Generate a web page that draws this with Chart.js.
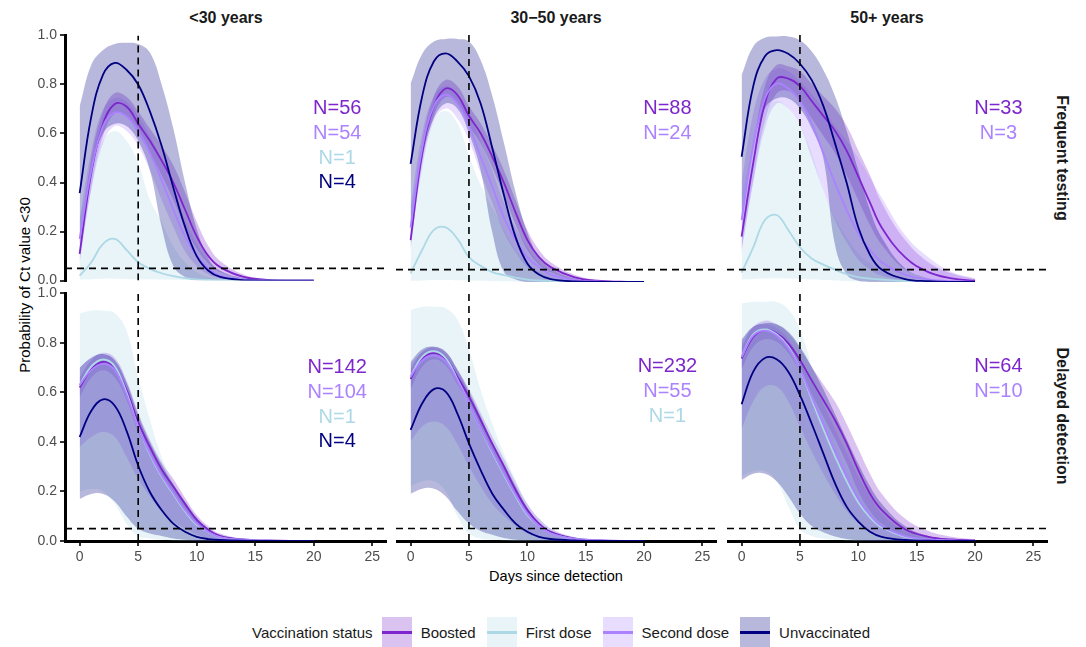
<!DOCTYPE html>
<html>
<head>
<meta charset="utf-8">
<title>Probability of Ct value &lt;30 by vaccination status</title>
<script src="https://cdn.jsdelivr.net/npm/chart.js@4.4.1/dist/chart.umd.min.js"></script>
<style>
  html, body { margin: 0; padding: 0; background: #fff; }
  #figure { position: relative; width: 1086px; height: 647px; overflow: hidden;
            font-family: "Liberation Sans", Arial, sans-serif; color: #000; }
  #figure canvas { position: absolute; }
  .label { position: absolute; white-space: nowrap; transform: translate(-50%, -50%); }
  .strip { font-weight: bold; font-size: 16px; color: #1a1a1a; }
  .strip-right { transform: translate(-50%, -50%) rotate(90deg); }
  .axis-title { font-size: 14.5px; color: #000; }
  .y-title { transform: translate(-50%, -50%) rotate(-90deg); font-size: 15px; }
  #legend { position: absolute; left: 252px; top: 617px; height: 30px; display: flex;
            align-items: center; font-size: 15px; color: #1a1a1a; white-space: nowrap; }
  #legend .key { width: 30px; height: 30px; position: relative; margin-right: 9px; }
  #legend .key span { position: absolute; left: 0; right: 0; top: 13.5px; height: 3px; }
  #legend .txt { margin-right: 11px; }
</style>
</head>
<body>
<div id="figure">
  <div class="label strip" style="left:226px;top:18px">&lt;30 years</div>
  <div class="label strip" style="left:556px;top:18px">30&minus;50 years</div>
  <div class="label strip" style="left:887px;top:18px">50+ years</div>
  <div class="label strip strip-right" style="left:1062px;top:158px">Frequent testing</div>
  <div class="label strip strip-right" style="left:1062px;top:416px">Delayed detection</div>
  <div class="label y-title" style="left:24px;top:285px">Probability of Ct value &lt;30</div>
  <div class="label axis-title" style="left:556px;top:576px">Days since detection</div>
  <div id="legend"></div>
</div>
<script>
// ---- shared values ----
const days = [0, 1, 2, 3, 4, 5, 6, 7, 8, 9, 10, 11, 12, 14, 16, 18, 20];
const dayTicks = [0, 5, 10, 15, 20, 25];
const probTicks = [0, 0.2, 0.4, 0.6, 0.8, 1.0];
const dayLimits = [-1.25, 26.25];
const detectionDay = 5;
const ctThreshold = 0.05;
const labelDay = 22;
const labelHeights = [0.7, 0.6, 0.5, 0.4];   // Boosted, Second dose, First dose, Unvaccinated
const statuses = ['Boosted', 'First dose', 'Second dose', 'Unvaccinated'];
const statusColors = ['#7D26CD', '#ADD8E6', '#AB82FF', '#000080'];

// ---- Frequent testing, <30 years ----
const freqU30Boosted   = [.109, .44, .64, .72, .71, .64, .57, .49, .40, .29, .18, .10, .055, .015, .003, 0, 0];
const freqU30BoostedLo = [.07, .38, .59, .68, .67, .60, .52, .43, .33, .22, .13, .07, .035, .008, .001, 0, 0];
const freqU30BoostedHi = [.16, .50, .69, .765, .75, .69, .62, .55, .47, .36, .24, .14, .08, .025, .006, .001, 0];
const freqU30First     = [.02, .075, .15, .17, .125, .075, .048, .03, .018, .01, .005, .003, .002, 0, 0, 0, 0];
const freqU30FirstLo   = [.004, .006, .008, .008, .007, .006, .005, .004, .003, .002, .001, 0, 0, 0, 0, 0, 0];
const freqU30FirstHi   = [.25, .45, .57, .61, .57, .48, .33, .24, .14, .075, .035, .015, .008, .002, 0, 0, 0];
const freqU30Second    = [.17, .45, .63, .685, .67, .61, .52, .41, .29, .18, .10, .05, .02, .004, 0, 0, 0];
const freqU30SecondLo  = [.10, .37, .56, .63, .61, .55, .45, .33, .22, .12, .06, .025, .01, .002, 0, 0, 0];
const freqU30SecondHi  = [.25, .53, .70, .745, .73, .67, .59, .49, .37, .25, .15, .08, .04, .01, .002, 0, 0];
const freqU30Unvacc    = [.357, .67, .84, .888, .86, .80, .69, .55, .38, .22, .10, .04, .015, .002, 0, 0, 0];
const freqU30UnvaccLo  = [.15, .45, .60, .64, .63, .57, .45, .22, .06, .015, 0, 0, 0, 0, 0, 0, 0];
const freqU30UnvaccHi  = [.71, .88, .94, .965, .97, .965, .93, .80, .62, .40, .21, .09, .04, .01, .002, 0, 0];
const freqU30N = [56, 54, 1, 4];

// ---- Frequent testing, 30-50 years ----
const freqMidBoosted   = [.169, .52, .71, .78, .755, .67, .60, .505, .40, .28, .17, .10, .06, .02, .005, .001, 0];
const freqMidBoostedLo = [.13, .48, .67, .745, .72, .63, .56, .46, .35, .23, .13, .07, .04, .01, .002, 0, 0];
const freqMidBoostedHi = [.21, .56, .75, .815, .79, .71, .64, .55, .45, .33, .21, .13, .08, .03, .008, .002, 0];
const freqMidFirst     = [.035, .13, .21, .22, .175, .10, .065, .04, .028, .018, .01, .006, .004, .001, 0, 0, 0];
const freqMidFirstLo   = [.004, .006, .008, .008, .007, .006, .005, .004, .003, .002, .001, 0, 0, 0, 0, 0, 0];
const freqMidFirstHi   = [.30, .50, .65, .69, .64, .51, .39, .30, .21, .13, .075, .04, .02, .005, .001, 0, 0];
const freqMidSecond    = [.22, .54, .71, .755, .72, .63, .505, .385, .26, .17, .10, .06, .03, .008, .002, 0, 0];
const freqMidSecondLo  = [.15, .46, .65, .70, .66, .57, .44, .32, .20, .12, .06, .035, .015, .003, 0, 0, 0];
const freqMidSecondHi  = [.30, .60, .75, .79, .76, .68, .57, .45, .32, .22, .14, .08, .045, .012, .003, 0, 0];
const freqMidUnvacc    = [.476, .75, .89, .922, .89, .83, .72, .54, .35, .18, .075, .03, .012, .002, 0, 0, 0];
const freqMidUnvaccLo  = [.20, .50, .66, .72, .70, .60, .45, .20, .04, .01, 0, 0, 0, 0, 0, 0, 0];
const freqMidUnvaccHi  = [.80, .92, .97, .98, .98, .97, .895, .75, .56, .36, .20, .10, .055, .015, .003, 0, 0];
const freqMidN = [88, 24, null, null];

// ---- Frequent testing, 50+ years ----
const freqOldBoosted   = [.183, .48, .72, .82, .82, .79, .73, .67, .61, .53, .425, .32, .22, .10, .04, .015, .005];
const freqOldBoostedLo = [.13, .41, .65, .76, .77, .73, .66, .59, .52, .43, .33, .23, .15, .05, .015, .004, .001];
const freqOldBoostedHi = [.24, .55, .79, .875, .87, .85, .80, .75, .70, .63, .53, .43, .32, .17, .08, .035, .012];
const freqOldFirst     = [.038, .14, .25, .27, .21, .14, .095, .07, .05, .032, .02, .014, .01, .004, .001, 0, 0];
const freqOldFirstLo   = [.01, .012, .015, .015, .014, .012, .01, .008, .006, .004, .003, .002, .001, 0, 0, 0, 0];
const freqOldFirstHi   = [.35, .55, .70, .73, .70, .63, .52, .37, .26, .18, .115, .075, .048, .015, .004, 0, 0];
const freqOldSecond    = [.25, .55, .74, .80, .78, .73, .64, .52, .40, .29, .196, .13, .08, .03, .01, .003, 0];
const freqOldSecondLo  = [.12, .40, .62, .72, .70, .63, .50, .37, .25, .16, .09, .05, .025, .006, .001, 0, 0];
const freqOldSecondHi  = [.40, .68, .82, .86, .85, .81, .76, .70, .63, .57, .50, .42, .34, .19, .10, .04, .015];
const freqOldUnvacc    = [.505, .79, .91, .935, .92, .88, .815, .71, .56, .40, .22, .11, .05, .012, .003, 0, 0];
const freqOldUnvaccLo  = [.25, .55, .70, .74, .74, .70, .62, .50, .15, .03, .005, 0, 0, 0, 0, 0, 0];
const freqOldUnvaccHi  = [.835, .95, .985, .99, .99, .975, .93, .855, .75, .61, .45, .29, .18, .055, .015, .003, 0];
const freqOldN = [33, 3, null, null];

// ---- Delayed detection, <30 years ----
const delayU30Boosted   = [.62, .693, .724, .70, .61, .48, .38, .29, .22, .15, .085, .045, .02, .006, .002, 0, 0];
const delayU30BoostedLo = [.58, .66, .69, .66, .57, .44, .35, .26, .19, .125, .065, .032, .014, .004, .001, 0, 0];
const delayU30BoostedHi = [.66, .73, .76, .74, .65, .52, .41, .32, .25, .175, .105, .06, .03, .009, .002, 0, 0];
const delayU30First     = [.63, .705, .733, .705, .60, .46, .35, .26, .19, .12, .065, .035, .015, .004, .001, 0, 0];
const delayU30FirstLo   = [.20, .21, .20, .15, .07, .02, .01, .005, .002, .001, 0, 0, 0, 0, 0, 0, 0];
const delayU30FirstHi   = [.92, .93, .93, .92, .85, .66, .49, .34, .23, .15, .085, .045, .024, .008, .002, 0, 0];
const delayU30Second    = [.63, .69, .715, .69, .59, .46, .355, .265, .195, .125, .07, .035, .015, .004, .001, 0, 0];
const delayU30SecondLo  = [.38, .42, .44, .42, .34, .25, .18, .12, .08, .05, .025, .012, .005, .001, 0, 0, 0];
const delayU30SecondHi  = [.70, .74, .755, .73, .64, .50, .39, .295, .22, .15, .09, .05, .024, .007, .002, 0, 0];
const delayU30Unvacc    = [.42, .526, .572, .546, .446, .305, .198, .125, .07, .037, .017, .008, .004, .001, 0, 0, 0];
const delayU30UnvaccLo  = [.17, .19, .19, .16, .10, .05, .03, .02, .01, .005, 0, 0, 0, 0, 0, 0, 0];
const delayU30UnvaccHi  = [.70, .74, .755, .73, .64, .51, .40, .31, .23, .16, .095, .05, .025, .007, .002, 0, 0];
const delayU30N = [142, 104, 1, 4];

// ---- Delayed detection, 30-50 years ----
const delayMidBoosted   = [.65, .733, .755, .733, .66, .58, .486, .39, .30, .205, .125, .07, .037, .01, .003, 0, 0];
const delayMidBoostedLo = [.61, .70, .73, .705, .63, .55, .455, .36, .27, .18, .10, .055, .027, .007, .002, 0, 0];
const delayMidBoostedHi = [.69, .76, .78, .76, .69, .61, .515, .42, .33, .235, .15, .09, .05, .015, .004, .001, 0];
const delayMidFirst     = [.66, .74, .762, .735, .65, .55, .45, .355, .265, .18, .105, .06, .03, .008, .002, 0, 0];
const delayMidFirstLo   = [.22, .24, .24, .20, .10, .03, .01, .005, .002, 0, 0, 0, 0, 0, 0, 0, 0];
const delayMidFirstHi   = [.928, .94, .94, .935, .89, .77, .606, .47, .35, .245, .15, .09, .05, .017, .005, .001, 0];
const delayMidSecond    = [.66, .725, .745, .72, .645, .55, .45, .36, .27, .185, .11, .06, .03, .008, .002, 0, 0];
const delayMidSecondLo  = [.40, .46, .48, .46, .39, .30, .22, .15, .10, .06, .03, .015, .006, .001, 0, 0, 0];
const delayMidSecondHi  = [.71, .76, .775, .75, .68, .59, .49, .395, .30, .21, .13, .075, .04, .012, .003, 0, 0];
const delayMidUnvacc    = [.446, .553, .61, .60, .513, .392, .285, .19, .125, .07, .037, .017, .008, .002, 0, 0, 0];
const delayMidUnvaccLo  = [.19, .21, .21, .18, .12, .07, .04, .025, .012, .005, .002, 0, 0, 0, 0, 0, 0];
const delayMidUnvaccHi  = [.72, .77, .78, .76, .69, .60, .50, .40, .31, .22, .135, .075, .04, .012, .003, 0, 0];
const delayMidN = [232, 55, 1, null];

// ---- Delayed detection, 50+ years ----
const delayOldBoosted   = [.733, .82, .847, .834, .794, .727, .646, .566, .486, .392, .285, .19, .125, .047, .017, .006, .002];
const delayOldBoostedLo = [.69, .78, .81, .80, .755, .68, .59, .50, .41, .31, .20, .12, .07, .02, .005, .002, 0];
const delayOldBoostedHi = [.78, .86, .885, .87, .835, .775, .70, .63, .56, .47, .37, .27, .19, .09, .04, .017, .007];
const delayOldFirst     = [.74, .83, .85, .83, .78, .69, .57, .45, .34, .24, .155, .095, .055, .017, .005, .001, 0];
const delayOldFirstLo   = [.26, .28, .28, .24, .14, .05, .02, .01, .005, .002, 0, 0, 0, 0, 0, 0, 0];
const delayOldFirstHi   = [.955, .96, .96, .96, .93, .85, .70, .54, .405, .30, .205, .138, .09, .037, .015, .005, .002];
const delayOldSecond    = [.74, .825, .845, .825, .775, .69, .58, .47, .36, .26, .17, .105, .06, .02, .006, .002, 0];
const delayOldSecondLo  = [.45, .56, .62, .62, .56, .46, .36, .27, .19, .12, .07, .04, .02, .005, .001, 0, 0];
const delayOldSecondHi  = [.80, .86, .87, .855, .81, .73, .64, .55, .45, .355, .26, .18, .11, .04, .012, .004, .001];
const delayOldUnvacc    = [.549, .68, .735, .73, .68, .586, .472, .352, .232, .138, .078, .037, .017, .004, .001, 0, 0];
const delayOldUnvaccLo  = [.245, .27, .27, .24, .18, .11, .06, .035, .018, .008, .003, .001, 0, 0, 0, 0, 0];
const delayOldUnvaccHi  = [.81, .86, .875, .87, .84, .78, .70, .61, .51, .41, .31, .22, .15, .06, .02, .006, .002];
const delayOldN = [64, 10, null, null];

// ---- panel layout (facet grid 2 rows x 3 columns) ----
const FONT = '"Liberation Sans", Arial, sans-serif';
const columns = [
  { left: 25, width: 362, yAxis: true },
  { left: 396, width: 321, yAxis: false },
  { left: 727, width: 321, yAxis: false }
];
const rows = [
  { top: 24, height: 268, padTop: 10, padBottom: 10, xAxis: false },
  { top: 282, height: 285, padTop: 10, padBottom: 0, xAxis: true }
];

const panels = [
  { row: 0, col: 0, counts: freqU30N, series: [
    [freqU30Boosted, freqU30BoostedLo, freqU30BoostedHi], [freqU30First, freqU30FirstLo, freqU30FirstHi],
    [freqU30Second, freqU30SecondLo, freqU30SecondHi], [freqU30Unvacc, freqU30UnvaccLo, freqU30UnvaccHi]] },
  { row: 0, col: 1, counts: freqMidN, series: [
    [freqMidBoosted, freqMidBoostedLo, freqMidBoostedHi], [freqMidFirst, freqMidFirstLo, freqMidFirstHi],
    [freqMidSecond, freqMidSecondLo, freqMidSecondHi], [freqMidUnvacc, freqMidUnvaccLo, freqMidUnvaccHi]] },
  { row: 0, col: 2, counts: freqOldN, series: [
    [freqOldBoosted, freqOldBoostedLo, freqOldBoostedHi], [freqOldFirst, freqOldFirstLo, freqOldFirstHi],
    [freqOldSecond, freqOldSecondLo, freqOldSecondHi], [freqOldUnvacc, freqOldUnvaccLo, freqOldUnvaccHi]] },
  { row: 1, col: 0, counts: delayU30N, series: [
    [delayU30Boosted, delayU30BoostedLo, delayU30BoostedHi], [delayU30First, delayU30FirstLo, delayU30FirstHi],
    [delayU30Second, delayU30SecondLo, delayU30SecondHi], [delayU30Unvacc, delayU30UnvaccLo, delayU30UnvaccHi]] },
  { row: 1, col: 1, counts: delayMidN, series: [
    [delayMidBoosted, delayMidBoostedLo, delayMidBoostedHi], [delayMidFirst, delayMidFirstLo, delayMidFirstHi],
    [delayMidSecond, delayMidSecondLo, delayMidSecondHi], [delayMidUnvacc, delayMidUnvaccLo, delayMidUnvaccHi]] },
  { row: 1, col: 2, counts: delayOldN, series: [
    [delayOldBoosted, delayOldBoostedLo, delayOldBoostedHi], [delayOldFirst, delayOldFirstLo, delayOldFirstHi],
    [delayOldSecond, delayOldSecondLo, delayOldSecondHi], [delayOldUnvacc, delayOldUnvaccLo, delayOldUnvaccHi]] }
];

// label order in the panels: Boosted, Second dose, First dose, Unvaccinated
const labelColors = [statusColors[0], statusColors[2], statusColors[1], statusColors[3]];

function toPoints(values) {
  return days.map((d, i) => ({ x: d, y: values[i] }));
}

function withAlpha(hex, a) {
  const n = parseInt(hex.slice(1), 16);
  return `rgba(${(n >> 16) & 255}, ${(n >> 8) & 255}, ${n & 255}, ${a})`;
}

function buildDatasets(panel) {
  const sets = [];
  const smooth = { tension: 0.4, pointRadius: 0 };
  // ribbons first (Boosted at the bottom, Unvaccinated on top)
  panel.series.forEach(([mid, lo, hi], k) => {
    const order = 40 - k * 10;
    sets.push(Object.assign({ data: toPoints(lo), borderWidth: 0, borderColor: 'rgba(0,0,0,0)',
                              fill: false, order }, smooth));
    sets.push(Object.assign({ data: toPoints(hi), borderWidth: 0, borderColor: 'rgba(0,0,0,0)',
                              fill: '-1', backgroundColor: withAlpha(statusColors[k], 0.28), order }, smooth));
  });
  // estimate lines
  panel.series.forEach(([mid], k) => {
    sets.push(Object.assign({ data: toPoints(mid), borderColor: statusColors[k], borderWidth: 1.8,
                              fill: false, order: 5 - k }, smooth));
  });
  // dashed reference lines
  const dashed = { borderColor: '#000', borderWidth: 1.6, borderDash: [7, 5], pointRadius: 0, fill: false, order: 0 };
  sets.push(Object.assign({ data: [{ x: dayLimits[0], y: ctThreshold }, { x: dayLimits[1], y: ctThreshold }] }, dashed));
  sets.push(Object.assign({ data: [{ x: detectionDay, y: 0 }, { x: detectionDay, y: 1 }] }, dashed));
  return sets;
}

const nLabelPlugin = {
  id: 'nLabels',
  afterDatasetsDraw(chart, args, opts) {
    const { ctx, scales: { x, y } } = chart;
    ctx.save();
    ctx.font = '20px ' + FONT;
    ctx.textAlign = 'center';
    ctx.textBaseline = 'middle';
    opts.counts.forEach((n, i) => {
      if (n === null) return;
      ctx.fillStyle = labelColors[i];
      ctx.fillText('N=' + n, x.getPixelForValue(labelDay), y.getPixelForValue(labelHeights[i]));
    });
    ctx.restore();
  }
};

const figure = document.getElementById('figure');

panels.forEach(panel => {
  const col = columns[panel.col];
  const row = rows[panel.row];
  const canvas = document.createElement('canvas');
  canvas.width = col.width;
  canvas.height = row.height;
  canvas.style.left = col.left + 'px';
  canvas.style.top = row.top + 'px';
  canvas.style.width = col.width + 'px';
  canvas.style.height = row.height + 'px';
  figure.appendChild(canvas);

  const tickGrid = { display: true, drawOnChartArea: false, drawTicks: true, tickLength: 5, color: '#333', lineWidth: 2 };

  new Chart(canvas, {
    type: 'line',
    data: { datasets: buildDatasets(panel) },
    plugins: [nLabelPlugin],
    options: {
      responsive: false,
      devicePixelRatio: 1,
      animation: false,
      events: [],
      layout: { padding: { top: row.padTop, bottom: row.padBottom, left: 0, right: 0 } },
      plugins: {
        legend: { display: false },
        tooltip: { enabled: false },
        nLabels: { counts: panel.counts }
      },
      scales: {
        x: {
          type: 'linear',
          min: dayLimits[0],
          max: dayLimits[1],
          display: row.xAxis,
          afterBuildTicks: s => { s.ticks = dayTicks.map(v => ({ value: v })); },
          afterFit: s => { s.height = row.xAxis ? 26 : 0; },
          border: { display: true, color: '#000', width: 3 },
          grid: tickGrid,
          ticks: { color: '#4D4D4D', font: { size: 14, family: FONT }, padding: 3, maxRotation: 0, autoSkip: false }
        },
        y: {
          type: 'linear',
          min: 0,
          max: 1,
          display: col.yAxis,
          afterBuildTicks: s => { s.ticks = probTicks.map(v => ({ value: v })); },
          afterFit: s => { s.width = col.yAxis ? 40 : 0; },
          border: { display: true, color: '#000', width: 3 },
          grid: tickGrid,
          ticks: { color: '#4D4D4D', font: { size: 14, family: FONT }, padding: 3,
                   callback: v => v.toFixed(1) }
        }
      }
    }
  });
});

// ---- legend ----
const legend = document.getElementById('legend');
const legendTitle = document.createElement('span');
legendTitle.textContent = 'Vaccination status';
legendTitle.style.marginRight = '9px';
legend.appendChild(legendTitle);
statuses.forEach((name, k) => {
  const key = document.createElement('div');
  key.className = 'key';
  key.style.background = withAlpha(statusColors[k], 0.28);
  const line = document.createElement('span');
  line.style.background = statusColors[k];
  key.appendChild(line);
  legend.appendChild(key);
  const txt = document.createElement('span');
  txt.className = 'txt';
  txt.textContent = name;
  legend.appendChild(txt);
});
</script>
</body>
</html>
